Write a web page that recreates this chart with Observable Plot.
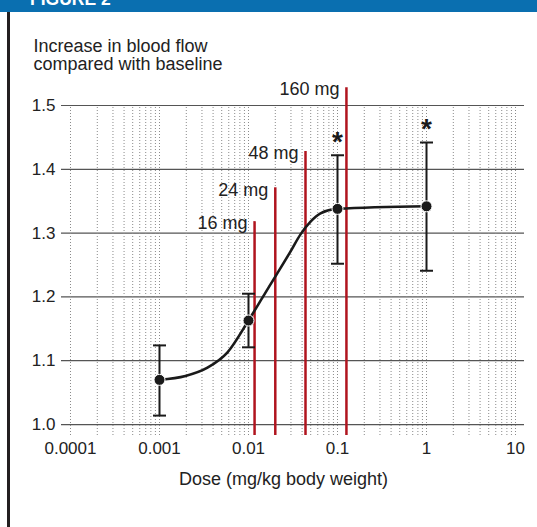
<!DOCTYPE html>
<html><head><meta charset="utf-8">
<script src="https://cdn.jsdelivr.net/npm/d3@7"></script>
<script src="https://cdn.jsdelivr.net/npm/@observablehq/plot@0.6"></script>
<style>
body{margin:0;background:#fff;}
#wrap{position:relative;width:537px;height:527px;overflow:hidden;font-family:"Liberation Sans",Arial,sans-serif;}
#hdr{position:absolute;left:0;top:0;width:537px;height:11.5px;background:#0a6fb0;overflow:hidden;z-index:2;}
#hdr span{position:absolute;left:30px;top:-9px;font-size:17.5px;line-height:17.5px;font-weight:bold;color:#fff;white-space:nowrap;}
#border{position:absolute;left:7px;top:11.5px;width:2.5px;height:516px;background:#231f20;z-index:2;}
#chart{position:absolute;left:0;top:0;}
</style>
</head><body>
<div id="wrap">
  <div id="hdr"><span>FIGURE 2</span></div>
  <div id="border"></div>
  <div id="chart"></div>
</div>
<script>
// ---- data ----
const doses = [0.001, 0.01, 0.1, 1];
const means = [1.070, 1.163, 1.338, 1.342];
const errLow = [1.014, 1.121, 1.252, 1.241];
const errHigh = [1.124, 1.205, 1.422, 1.442];
const significant = [false, false, true, true];

const curveDose = [0.001, 0.00196, 0.00346, 0.00581, 0.01, 0.01435, 0.02065, 0.0296, 0.0384, 0.0498, 0.0644, 0.1, 1];
const curveValue = [1.070, 1.076, 1.089, 1.113, 1.163, 1.199, 1.235, 1.271, 1.298, 1.318, 1.331, 1.338, 1.342];

const humanDoseLabels = ["16 mg", "24 mg", "48 mg", "160 mg"];
const humanDoseX = [0.0117, 0.0200, 0.0437, 0.126];
const humanDoseTop = [1.318, 1.371, 1.428, 1.528];

const yTicks = [1.0, 1.1, 1.2, 1.3, 1.4, 1.5];
const yTickLabels = ["1.0", "1.1", "1.2", "1.3", "1.4", "1.5"];
const xTicks = [0.0001, 0.001, 0.01, 0.1, 1, 10];
const xTickLabels = ["0.0001", "0.001", "0.01", "0.1", "1", "10"];

const yTitle = "Increase in blood flow\ncompared with baseline";
const xTitle = "Dose (mg/kg body weight)";

// ---- derived tables ----
const points = doses.map((d, i) => ({dose: d, mean: means[i], lo: errLow[i], hi: errHigh[i], sig: significant[i]}));
const curve = curveDose.map((d, i) => ({dose: d, value: curveValue[i]}));
const human = humanDoseLabels.map((l, i) => ({label: l, dose: humanDoseX[i], top: humanDoseTop[i]}));
const minorGrid = [];
for (let k = 0; k < xTicks.length - 1; k++) for (let m = 1; m <= 9; m++) minorGrid.push(xTicks[k] * m);
minorGrid.push(xTicks[xTicks.length - 1]);

const yDomain = [0.9828, 1.5];
const xDomain = [Math.pow(10, -4.101), Math.pow(10, 1.101)];

const capSymbol = {draw(ctx, size) { const w = 6.5; ctx.moveTo(-w, 0); ctx.lineTo(w, 0); }};

const plot = Plot.plot({
  width: 537,
  height: 527,
  marginLeft: 61,
  marginRight: 13,
  marginTop: 105,
  marginBottom: 92,
  style: {fontFamily: "'Liberation Sans', Arial, sans-serif", fontSize: "17px", color: "#222", background: "transparent"},
  x: {type: "log", domain: xDomain},
  y: {domain: yDomain},
  marks: [
    Plot.ruleY(yTicks, {stroke: "#555", strokeWidth: 1.2}),
    Plot.ruleX(minorGrid, {y1: yDomain[0], y2: yDomain[1], stroke: "#8a8a8a", strokeWidth: 1, strokeDasharray: "1,2"}),
    Plot.text(human, {x: "dose", y: "top", text: "label", textAnchor: "end", lineAnchor: "middle", dx: -7, dy: 2, fontSize: 18, fill: "#222", ariaLabel: "dose-label"}),
    Plot.ruleX(human, {x: "dose", y1: yDomain[0], y2: "top", stroke: "#b0141e", strokeWidth: 2.5}),
    Plot.line(curve, {x: "dose", y: "value", curve: "monotone-x", stroke: "#1a1a1a", strokeWidth: 2.6}),
    Plot.ruleX(points, {x: "dose", y1: "lo", y2: "hi", stroke: "#1a1a1a", strokeWidth: 2}),
    Plot.dot(points, {x: "dose", y: "lo", symbol: capSymbol, stroke: "#1a1a1a", fill: "none", strokeWidth: 2}),
    Plot.dot(points, {x: "dose", y: "hi", symbol: capSymbol, stroke: "#1a1a1a", fill: "none", strokeWidth: 2}),
    Plot.dot(points, {x: "dose", y: "mean", r: 5.5, fill: "#1a1a1a", stroke: "white", strokeWidth: 1}),
    Plot.text(points.filter(d => d.sig), {x: "dose", y: "hi", text: () => "*", fontSize: 28, fontWeight: "bold", lineAnchor: "middle", dy: -13, fill: "#1a1a1a"}),
    Plot.axisY({ticks: yTicks, tickFormat: d => yTickLabels[yTicks.indexOf(d)], tickSize: 0, tickPadding: 6, label: null, fontSize: 17}),
    Plot.axisX({ticks: xTicks, tickFormat: d => xTickLabels[xTicks.indexOf(d)], tickSize: 0, tickPadding: 6, label: null, fontSize: 17}),
    Plot.text([yTitle], {frameAnchor: "top-left", dx: -28, dy: -66.5, textAnchor: "start", lineAnchor: "top", lineHeight: 1.02, fontSize: 18, fill: "#222"}),
    Plot.text([xTitle], {frameAnchor: "bottom", dx: -9.5, dy: 43.6, lineAnchor: "middle", fontSize: 18, fill: "#222"})
  ]
});
document.getElementById("chart").append(plot);

// white boxes behind the human-dose labels
plot.querySelectorAll('g[aria-label="dose-label"] text').forEach(t => {
  const b = t.getBBox();
  const r = document.createElementNS("http://www.w3.org/2000/svg", "rect");
  r.setAttribute("x", b.x - 3);
  r.setAttribute("y", b.y - 1);
  r.setAttribute("width", b.width + 7);
  r.setAttribute("height", b.height + 3);
  r.setAttribute("fill", "white");
  r.setAttribute("stroke", "none");
  if (t.getAttribute("transform")) r.setAttribute("transform", t.getAttribute("transform"));
  t.parentNode.insertBefore(r, t);
});
</script>
</body></html>
